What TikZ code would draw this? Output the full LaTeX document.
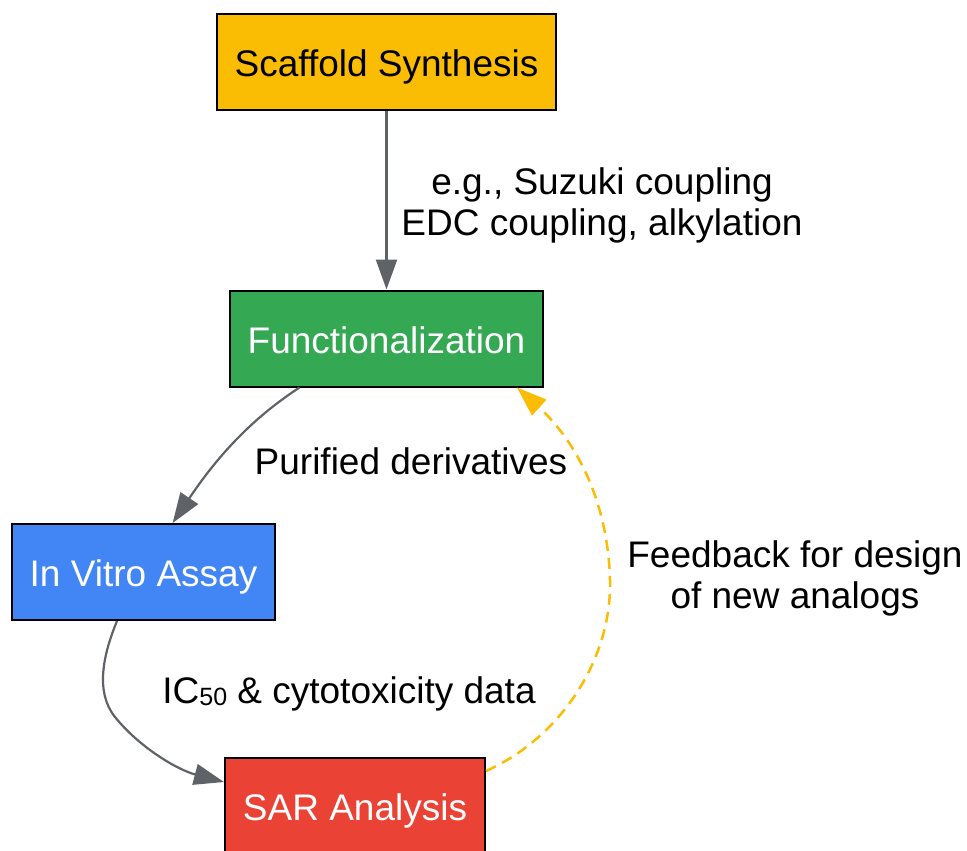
\documentclass[tikz,border=0pt]{standalone}
\usepackage{fontspec}
\setmainfont{Liberation Sans}
\usetikzlibrary{arrows.meta,calc}
\definecolor{cgray}{HTML}{5F6368}
\definecolor{cyellow}{HTML}{FBBC04}
\definecolor{cgreen}{HTML}{34A853}
\definecolor{cblue}{HTML}{4285F4}
\definecolor{cred}{HTML}{EA4335}
\tikzset{
  box/.style={draw=black, line width=2pt, minimum height=96pt, inner sep=0pt, text height=29pt, text depth=0pt, font=\fontsize{37}{44}\selectfont},
  lbl/.style={font=\fontsize{37}{41}\selectfont, align=center, inner sep=0pt},
  edge/.style={draw=cgray, line width=2.2pt, -{Triangle[length=30pt,width=21pt]}},
  fb/.style={draw=cyellow, line width=2.5pt, dash pattern=on 11pt off 7pt, -{Triangle[length=30pt,width=21pt]}}
}
\begin{document}
\begin{tikzpicture}[x=1pt,y=-1pt]
\useasboundingbox (0,0) rectangle (967,851);
\clip (0,0) rectangle (967,851);
\node[box, fill=cyellow, text=black, minimum width=339pt] (scaf) at (386.5,62) {Scaffold Synthesis};
\node[box, fill=cgreen, text=white, minimum width=313pt] (fun) at (386.5,338.5) {Functionalization};
\node[box, fill=cblue, text=white, minimum width=263pt] (vit) at (143.5,572) {In Vitro Assay};
\node[box, fill=cred, text=white, minimum width=260pt] (sar) at (355,806) {SAR Analysis};

\node[lbl] (l1) at (602,205) {e.g., Suzuki coupling\\EDC coupling, alkylation};
\node[lbl] (l2) at (411,461) {Purified derivatives};
\node[lbl] (l3) at (349,694) {IC{\fontsize{25}{25}\selectfont\raisebox{-2pt}{50}} \& cytotoxicity data};
\node[lbl] (l4) at (795,578) {Feedback for design\\of new analogs};

\draw[edge] (scaf.south) -- (fun.north);
\coordinate (a2s) at ($(fun.south west)!0.224!(fun.south east)$);
\coordinate (a2e) at ($(vit.north west)!0.61!(vit.north east)$);
\draw[edge] (a2s) .. controls (262,412) and (225,445) .. (a2e);
\coordinate (a3s) at ($(vit.south west)!0.40!(vit.south east)$);
\coordinate (a3e) at ($(sar.north west)+(0,25)$);
\draw[edge] (a3s) .. controls (103,655) and (95,692) .. (115,717) .. controls (140,748) and (178,770) .. (a3e);
\coordinate (a4s) at ($(sar.north east)+(0,14)$);
\coordinate (a4e) at ($(fun.south east)+(-27,0)$);
\draw[fb] (a4s) .. controls (560,738) and (612,660) .. (610,580) .. controls (608,500) and (575,440) .. (a4e);
\end{tikzpicture}
\end{document}
